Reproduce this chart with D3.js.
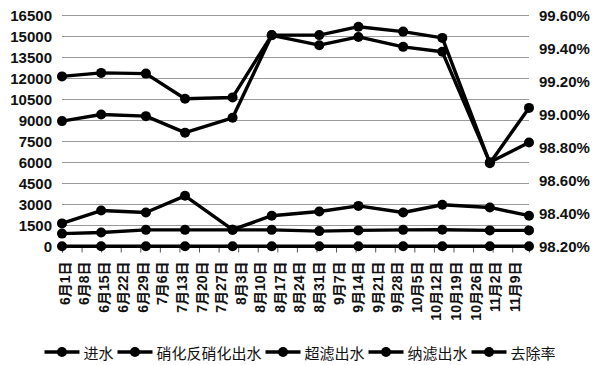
<!DOCTYPE html>
<html><head><meta charset="utf-8">
<script src="https://cdn.jsdelivr.net/npm/d3@7"></script>
<style>
html,body{margin:0;padding:0;background:#fff;}
svg{display:block;}
</style></head>
<body>
<svg id="chart" width="600" height="365"></svg>
<script>
// ---- data ----
const sampleDates = ["2019-06-01","2019-06-15","2019-07-01","2019-07-15","2019-08-01","2019-08-15","2019-09-01","2019-09-15","2019-10-01","2019-10-15","2019-11-01","2019-11-15"];
const influent   = [12150, 12400, 12350, 10550, 10650, 15100, 15100, 15700, 15350, 14900, 5950, 9900];
const nitriEff   = [1650, 2570, 2430, 3620, 1200, 2200, 2500, 2900, 2430, 2980, 2790, 2200];
const ufEff      = [920, 1000, 1190, 1190, 1190, 1190, 1100, 1150, 1190, 1200, 1150, 1150];
const nfEff      = [20, 20, 20, 20, 20, 20, 20, 20, 20, 20, 20, 20];
const removal    = [98.96, 99.00, 98.99, 98.89, 98.98, 99.48, 99.42, 99.47, 99.41, 99.38, 98.71, 98.83];
const seriesNames = ["进水","硝化反硝化出水","超滤出水","纳滤出水","去除率"];
const xTickLabels = ["6月1日","6月8日","6月15日","6月22日","6月29日","7月6日","7月13日","7月20日","7月27日","8月3日","8月10日","8月17日","8月24日","8月31日","9月7日","9月14日","9月21日","9月28日","10月5日","10月12日","10月19日","10月26日","11月2日","11月9日"];
const leftTicks  = [0,1500,3000,4500,6000,7500,9000,10500,12000,13500,15000,16500];
const rightTicks = [98.2,98.4,98.6,98.8,99.0,99.2,99.4,99.6];
const year = 2019;

// ---- scales ----
const parse = d3.utcParse("%Y-%m-%d");
const labelDate = s => { const m = s.match(/(\d+)月(\d+)日/); return new Date(Date.UTC(year, +m[1]-1, +m[2])); };
const x = d3.scaleUtc().domain([parse("2019-06-01"), parse("2019-11-15")]).range([62, 529]);
const yL = d3.scaleLinear().domain([0,16500]).range([246.5,15.5]);
const yR = d3.scaleLinear().domain([98.2,99.6]).range([246.5,15.5]);

const svg = d3.select("#chart");
const numFont = "'Liberation Sans', Arial, 'Noto Sans CJK SC', sans-serif";
const cjkFont = "'Noto Sans CJK SC', 'Liberation Sans', sans-serif";

// grid
svg.append("g").selectAll("line").data(leftTicks).join("line")
  .attr("x1", x.range()[0]).attr("x2", x.range()[1])
  .attr("y1", d=>yL(d)).attr("y2", d=>yL(d))
  .attr("stroke", "#9a9a9a").attr("stroke-width", 1.2);

// left axis labels
const la = svg.append("g").attr("transform", `translate(52,0)`)
  .call(d3.axisLeft(yL).tickValues(leftTicks).tickSize(0).tickPadding(0).tickFormat(d3.format("d")));
la.select(".domain").remove();
la.selectAll("text").attr("font-family", numFont).attr("font-size", 15).attr("font-weight","bold").attr("fill","#111");

// right axis labels
const ra = svg.append("g").attr("transform", `translate(539,0)`)
  .call(d3.axisRight(yR).tickValues(rightTicks).tickSize(0).tickPadding(0).tickFormat(d => d3.format(".2f")(d) + "%"));
ra.select(".domain").remove();
ra.selectAll("text").attr("font-family", numFont).attr("font-size", 15).attr("font-weight","bold").attr("fill","#111");

// x axis
const xa = svg.append("g").attr("transform", `translate(0,${yL(0)})`)
  .call(d3.axisBottom(x).tickValues(xTickLabels.map(labelDate)).tickSize(6).tickPadding(0)
        .tickFormat((d,i) => xTickLabels[i]));
xa.select(".domain").attr("stroke", "#555").attr("stroke-width", 1.2);
xa.selectAll(".tick line").attr("stroke", "#555").attr("stroke-width", 1);
xa.selectAll("text")
  .attr("font-family", numFont).attr("font-size", 14).attr("font-weight","bold").attr("fill","#111")
  .attr("text-anchor", "end").attr("dominant-baseline", "central")
  .attr("transform", "translate(2,15) rotate(-90)").attr("x", 0).attr("y", 0).attr("dy", null);

// series
const dts = sampleDates.map(parse);
const series = [
  {name: seriesNames[0], vals: influent, y: yL},
  {name: seriesNames[1], vals: nitriEff, y: yL},
  {name: seriesNames[2], vals: ufEff, y: yL},
  {name: seriesNames[3], vals: nfEff, y: yL},
  {name: seriesNames[4], vals: removal, y: yR}
];
const g = svg.append("g");
series.forEach(s => {
  const pts = s.vals.map((v,i) => [x(dts[i]), s.y(v)]);
  g.append("path").attr("d", d3.line()(pts)).attr("fill","none")
    .attr("stroke","#000").attr("stroke-width",3.4).attr("stroke-linejoin","round");
  g.append("g").selectAll("circle").data(pts).join("circle")
    .attr("cx", d=>d[0]).attr("cy", d=>d[1]).attr("r", 5).attr("fill","#000");
});

// legend
const lg = svg.append("g");
let cx = 0;
const items = [];
seriesNames.forEach(n => {
  const it = lg.append("g").attr("transform", `translate(${cx},0)`);
  it.append("line").attr("x1",0).attr("x2",35).attr("y1",0).attr("y2",0).attr("stroke","#000").attr("stroke-width",3.4);
  it.append("circle").attr("cx",17.5).attr("cy",0).attr("r",5).attr("fill","#000");
  const t = it.append("text").attr("x",39).attr("y",0).attr("dominant-baseline","central")
    .attr("font-family", cjkFont).attr("font-size",15).attr("fill","#111").text(n);
  cx += 39 + t.node().getComputedTextLength() + 4;
});
const totalW = cx - 4;
lg.attr("transform", `translate(${300 - totalW/2},352)`);
</script>
</body></html>
